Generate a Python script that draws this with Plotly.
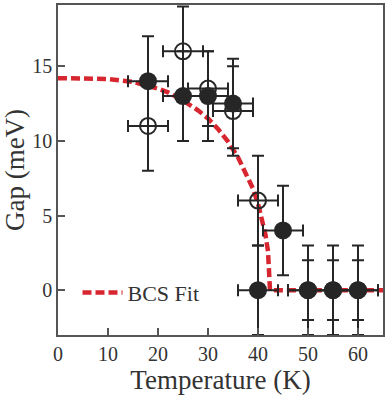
import plotly.graph_objects as go

# Filled circles (data set 1)
filled_T = [18, 25, 30, 35, 40, 45, 50, 55, 60]
filled_gap = [14, 13, 13, 12.5, 0, 4, 0, 0, 0]
filled_gap_err = [3, 3, 3, 3, 3, 3, 3, 3, 3]
filled_T_err = [4, 4, 4, 4, 4, 4, 4, 4, 4]

# Open circles (data set 2)
open_T = [18, 25, 30, 35, 40, 50, 55, 60]
open_gap = [11, 16, 13.5, 12, 6, 0, 0, 0]
open_gap_err = [3, 3, 2.5, 3, 3, 2, 2, 2]
open_T_err = [4, 4, 4, 4, 4, 4, 4, 4]

# BCS fit curve
fit_T = [0, 5, 10, 15, 18, 20, 22, 25, 28, 30, 32, 34, 36, 38, 39, 40, 41, 41.5, 42, 42.4, 43, 50, 60, 65]
fit_gap = [14.2, 14.2, 14.15, 13.95, 13.7, 13.5, 13.25, 12.7, 12.05, 11.5, 10.8, 9.95, 8.9, 7.6, 6.8, 5.8, 4.5, 3.7, 2.6, 0, 0, 0, 0, 0]

x_ticks = [0, 10, 20, 30, 40, 50, 60]
y_ticks = [0, 5, 10, 15]

INK = "#262626"
RED = "#d7262f"
FONT = "Liberation Serif"

fig = go.Figure()

fig.add_trace(go.Scatter(
    x=fit_T, y=fit_gap, mode="lines", name="BCS Fit",
    line=dict(color=RED, width=4.5, dash="9px,4px"),
    showlegend=True,
))

fig.add_trace(go.Scatter(
    x=open_T, y=open_gap, mode="markers", showlegend=False,
    marker=dict(symbol="circle-open", size=16, color=INK, line=dict(width=2, color=INK)),
    error_y=dict(type="data", array=open_gap_err, color=INK, thickness=2, width=6),
    error_x=dict(type="data", array=open_T_err, color=INK, thickness=2, width=6),
))

fig.add_trace(go.Scatter(
    x=filled_T, y=filled_gap, mode="markers", showlegend=False,
    marker=dict(symbol="circle", size=18, color=INK, line=dict(width=0)),
    error_y=dict(type="data", array=filled_gap_err, color=INK, thickness=2, width=6),
    error_x=dict(type="data", array=filled_T_err, color=INK, thickness=2, width=6),
))

axis_common = dict(
    showgrid=False, zeroline=False, showline=True, linecolor="#555555", linewidth=1.5,
    mirror=True, ticks="inside", ticklen=7, tickwidth=1.5, tickcolor="#555555",
    tickfont=dict(family=FONT, size=20, color="#333333"),
)

fig.update_xaxes(
    range=[0, 65], tickvals=x_ticks, ticktext=[str(v) for v in x_ticks],
    title=dict(text="Temperature (K)", font=dict(family=FONT, size=27, color="#333333"), standoff=4),
    **axis_common,
)
fig.update_yaxes(
    range=[-3, 19.1], tickvals=y_ticks, ticktext=[str(v) for v in y_ticks],
    title=dict(text="Gap (meV)", font=dict(family=FONT, size=27, color="#333333"), standoff=6),
    **axis_common,
)

fig.update_layout(
    width=392, height=401,
    margin=dict(l=58, r=9, t=3, b=66),
    paper_bgcolor="white", plot_bgcolor="white",
    legend=dict(
        x=0.06, y=0.128, xanchor="left", yanchor="middle",
        bgcolor="rgba(0,0,0,0)", borderwidth=0, itemwidth=40,
        font=dict(family=FONT, size=22, color="#333333"),
    ),
)

fig.write_html("out.html", config={"displayModeBar": False},
               post_script="document.body.style.margin='0';")
